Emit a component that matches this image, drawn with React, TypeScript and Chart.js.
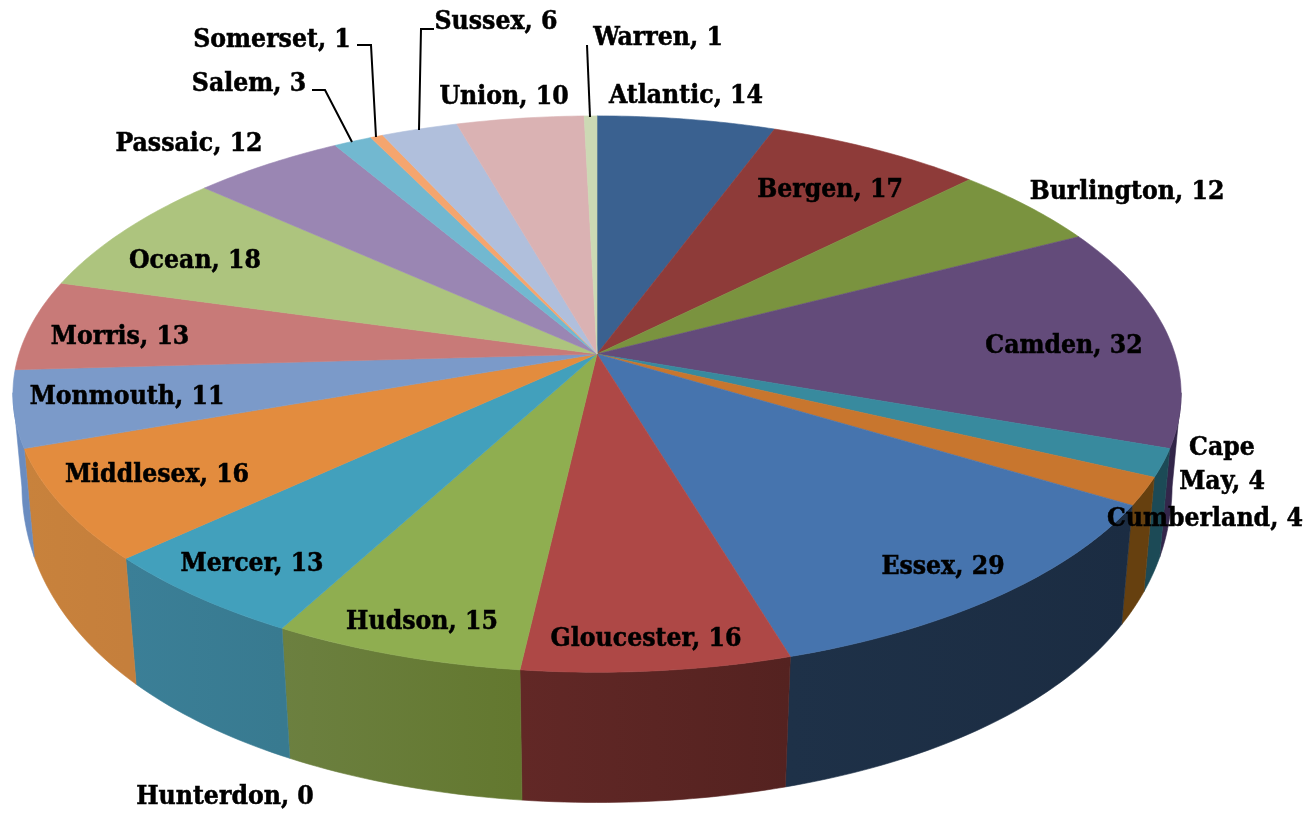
import React, { useEffect, useRef } from "react";
import { Chart, registerables } from "chart.js";

Chart.register(...registerables);

const categories = ["Atlantic","Bergen","Burlington","Camden","Cape May","Cumberland","Essex","Gloucester","Hudson","Hunterdon","Mercer","Middlesex","Monmouth","Morris","Ocean","Passaic","Salem","Somerset","Sussex","Union","Warren"];
const values = [14,17,12,32,4,4,29,16,15,0,13,16,11,13,18,12,3,1,6,10,1];
const topColors = ["#3a6190","#8e3b39","#7a933f","#634b7a","#388a9e","#c8762e","#4674ae","#ae4846","#8fae50","#42a0bc","#42a0bc","#e38c3e","#7b9ac9","#c87a78","#adc47e","#9a86b3","#72b8d0","#f5a56e","#b0bfdc","#dab2b3","#ccd9b4"];
const wallLeft = ["#2a4668","#672b29","#5a6d2e","#33264a","#1c4a56","#66400f","#1e3148","#622826","#6c8040","#3b7f97","#3b7f97","#c8823c","#6a8cc0","#94595a","#7f915d","#715f85","#54889a","#b57a51","#8290a5","#a18485","#96a085"];
const wallRight = ["#2a4668","#672b29","#5a6d2e","#2f2344","#1c4a56","#66400f","#1b2c42","#542220","#63782f","#387a90","#387a90","#c57f3c","#6a8cc0","#94595a","#7f915d","#715f85","#54889a","#b57a51","#8290a5","#a18485","#96a085"];

type Lbl = { lines: string[]; x: number; y: number };
const labelPlaces: Lbl[] = [
  { lines: ["Atlantic, 14"], x: 686, y: 96 },
  { lines: ["Bergen, 17"], x: 830, y: 190 },
  { lines: ["Burlington, 12"], x: 1127, y: 192 },
  { lines: ["Camden, 32"], x: 1064, y: 346 },
  { lines: ["Cape", "May, 4"], x: 1222, y: 448 },
  { lines: ["Cumberland, 4"], x: 1205, y: 519 },
  { lines: ["Essex, 29"], x: 943, y: 567 },
  { lines: ["Gloucester, 16"], x: 646, y: 639 },
  { lines: ["Hudson, 15"], x: 422, y: 622 },
  { lines: ["Hunterdon, 0"], x: 225, y: 797 },
  { lines: ["Mercer, 13"], x: 252, y: 564 },
  { lines: ["Middlesex, 16"], x: 157, y: 475 },
  { lines: ["Monmouth, 11"], x: 127, y: 397 },
  { lines: ["Morris, 13"], x: 120, y: 337 },
  { lines: ["Ocean, 18"], x: 195, y: 261 },
  { lines: ["Passaic, 12"], x: 189, y: 144 },
  { lines: ["Salem, 3"], x: 249, y: 84 },
  { lines: ["Somerset, 1"], x: 272, y: 40 },
  { lines: ["Sussex, 6"], x: 496, y: 22 },
  { lines: ["Union, 10"], x: 504, y: 97 },
  { lines: ["Warren, 1"], x: 658, y: 38 },
];
const leaders: number[][][] = [
  [[312, 90], [325, 90], [352, 142]],
  [[357, 45], [371, 45], [376, 137]],
  [[434, 29], [421, 29], [419, 130]],
  [[587, 45], [590, 117]],
];

const CX = 597, CY = 354, RX = 578, RK = 272.4, P = 0.144;
const BRX = 570, BP = 0.133, BCY = 436, BRY = 366.5;
const topPt = (phi: number) => {
  const d = 1 + P * Math.cos(phi);
  return [CX + (RX * Math.sin(phi)) / d, CY - (RK * Math.cos(phi)) / d];
};
const botPt = (phi: number) => {
  const d = 1 + BP * Math.cos(phi);
  return [CX + (BRX * Math.sin(phi)) / d, BCY - BRY * Math.cos(phi)];
};
const WALL_FROM = (98 * Math.PI) / 180, WALL_TO = (262 * Math.PI) / 180;

const perspectivePie = {
  id: "perspectivePie",
  beforeDatasetDraw(chart: any) {
    const ctx = chart.ctx;
    const arcs = chart.getDatasetMeta(0).data;
    ctx.save();
    ctx.lineJoin = "round";
    arcs.forEach((arc: any, i: number) => {
      const a = arc.startAngle + Math.PI / 2, b = arc.endAngle + Math.PI / 2;
      const s = Math.max(a, WALL_FROM), e = Math.min(b, WALL_TO);
      if (e <= s) return;
      const n = Math.max(2, Math.ceil((e - s) * 60));
      const grad = ctx.createLinearGradient(topPt(e)[0], 0, topPt(s)[0] + 0.01, 0);
      grad.addColorStop(0, wallLeft[i]);
      grad.addColorStop(1, wallRight[i]);
      ctx.beginPath();
      for (let k = 0; k <= n; k++) {
        const p = topPt(s + ((e - s) * k) / n);
        k ? ctx.lineTo(p[0], p[1]) : ctx.moveTo(p[0], p[1]);
      }
      for (let k = n; k >= 0; k--) {
        const p = botPt(s + ((e - s) * k) / n);
        ctx.lineTo(p[0], p[1]);
      }
      ctx.closePath();
      ctx.fillStyle = grad;
      ctx.strokeStyle = grad;
      ctx.lineWidth = 0.6;
      ctx.fill();
      ctx.stroke();
    });
    arcs.forEach((arc: any, i: number) => {
      const a = arc.startAngle + Math.PI / 2, b = arc.endAngle + Math.PI / 2;
      if (b - a <= 0) return;
      const n = Math.max(2, Math.ceil((b - a) * 80));
      ctx.beginPath();
      ctx.moveTo(CX, CY);
      for (let k = 0; k <= n; k++) {
        const p = topPt(a + ((b - a) * k) / n);
        ctx.lineTo(p[0], p[1]);
      }
      ctx.closePath();
      ctx.fillStyle = topColors[i];
      ctx.strokeStyle = topColors[i];
      ctx.lineWidth = 0.6;
      ctx.fill();
      ctx.stroke();
    });
    ctx.restore();
    return false;
  },
  afterDraw(chart: any) {
    const ctx = chart.ctx;
    ctx.save();
    ctx.strokeStyle = "#000";
    ctx.lineWidth = 2;
    leaders.forEach((pts) => {
      ctx.beginPath();
      pts.forEach((p, k) => (k ? ctx.lineTo(p[0], p[1]) : ctx.moveTo(p[0], p[1])));
      ctx.stroke();
    });
    ctx.fillStyle = "#000";
    ctx.lineWidth = 0.5;
    ctx.font = 'bold 26.3px "DejaVu Serif Condensed", "DejaVu Serif", serif';
    ctx.textAlign = "center";
    ctx.textBaseline = "middle";
    labelPlaces.forEach((l) => {
      l.lines.forEach((t, k) => {
        ctx.fillText(t, l.x, l.y + k * 34);
        ctx.strokeText(t, l.x, l.y + k * 34);
      });
    });
    ctx.restore();
  },
};

export default function App() {
  const ref = useRef<HTMLCanvasElement>(null);
  useEffect(() => {
    document.body.style.margin = "0";
    const chart = new Chart(ref.current as HTMLCanvasElement, {
      type: "pie",
      data: {
        labels: categories,
        datasets: [{ data: values, backgroundColor: topColors, borderWidth: 0 }],
      },
      options: {
        responsive: false,
        animation: false,
        plugins: { legend: { display: false }, tooltip: { enabled: false } },
      },
      plugins: [perspectivePie],
    } as any);
    return () => chart.destroy();
  }, []);
  return <canvas ref={ref} width={1316} height={814} style={{ display: "block" }} />;
}
